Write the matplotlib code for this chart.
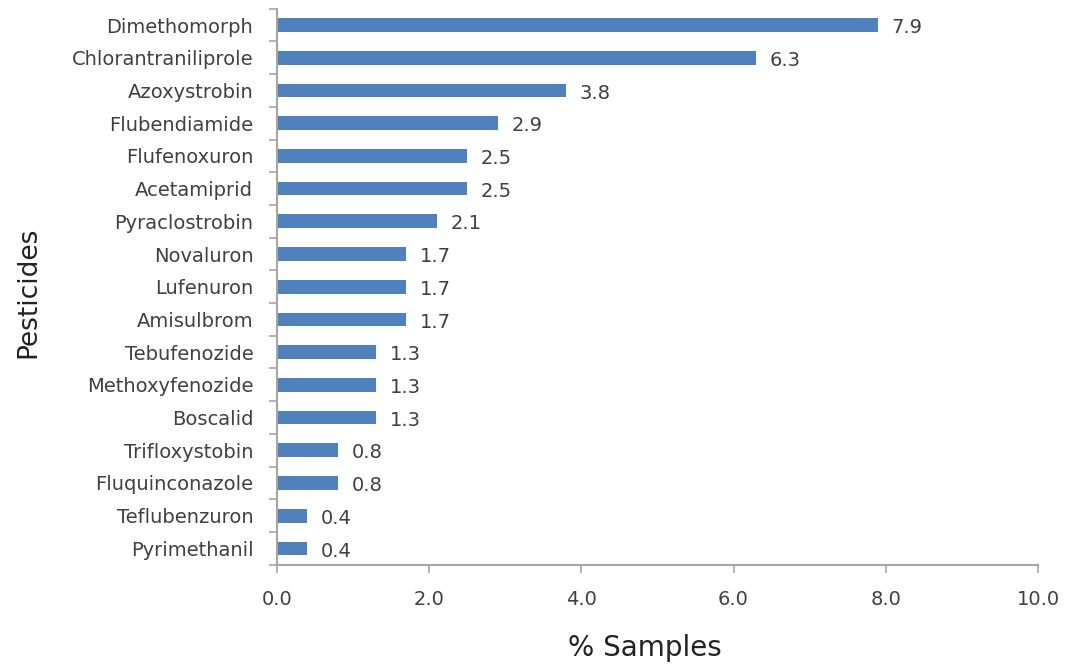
import numpy as np
import matplotlib.pyplot as plt

# pesticide names, top to bottom as drawn
pesticides = ["Dimethomorph", "Chlorantraniliprole", "Azoxystrobin", "Flubendiamide",
              "Flufenoxuron", "Acetamiprid", "Pyraclostrobin", "Novaluron",
              "Lufenuron", "Amisulbrom", "Tebufenozide", "Methoxyfenozide",
              "Boscalid", "Trifloxystobin", "Fluquinconazole", "Teflubenzuron",
              "Pyrimethanil"]
percent = [7.9, 6.3, 3.8, 2.9, 2.5, 2.5, 2.1, 1.7, 1.7, 1.7, 1.3, 1.3, 1.3,
           0.8, 0.8, 0.4, 0.4]
xticks = [0, 2, 4, 6, 8, 10]

txt = "#404040"
spine = "#a6a6a6"

fig = plt.figure(figsize=(10.69, 6.66), dpi=100)
ax = fig.add_axes([0.259, 0.152, 0.712, 0.835])

y = np.arange(len(pesticides))
ax.barh(y, percent, height=0.42, color="#4F81BD")
for yi, v in zip(y, percent):
    ax.text(v + 0.18, yi + 0.08, f"{v:.1f}", va="center", ha="left",
            fontsize=14, color=txt)

ax.set_ylim(len(pesticides) - 0.5, -0.5)
ax.set_yticks(y)
ax.set_yticklabels(pesticides, fontsize=14, color=txt)
ax.set_yticks(np.arange(len(pesticides) + 1) - 0.5, minor=True)
ax.tick_params(axis="y", which="major", length=0, pad=17)
ax.tick_params(axis="y", which="minor", length=6, color=spine, width=1.2)

ax.set_xlim(0, 10)
ax.set_xticks(xticks)
ax.set_xticklabels([f"{t:.1f}" for t in xticks], fontsize=14, color=txt)
ax.tick_params(axis="x", length=6, color=spine, width=1.2, pad=12)

for s in ["top", "right"]:
    ax.spines[s].set_visible(False)
for s in ["left", "bottom"]:
    ax.spines[s].set_color(spine)
    ax.spines[s].set_linewidth(1.5)

ax.set_xlabel("% Samples", fontsize=20, color="#222222")
ax.xaxis.set_label_coords(0.484, -0.125)
ax.set_ylabel("Pesticides", fontsize=19, color="#222222")
ax.yaxis.set_label_coords(-0.31, 0.49)

fig.savefig("out.png", dpi=100)
